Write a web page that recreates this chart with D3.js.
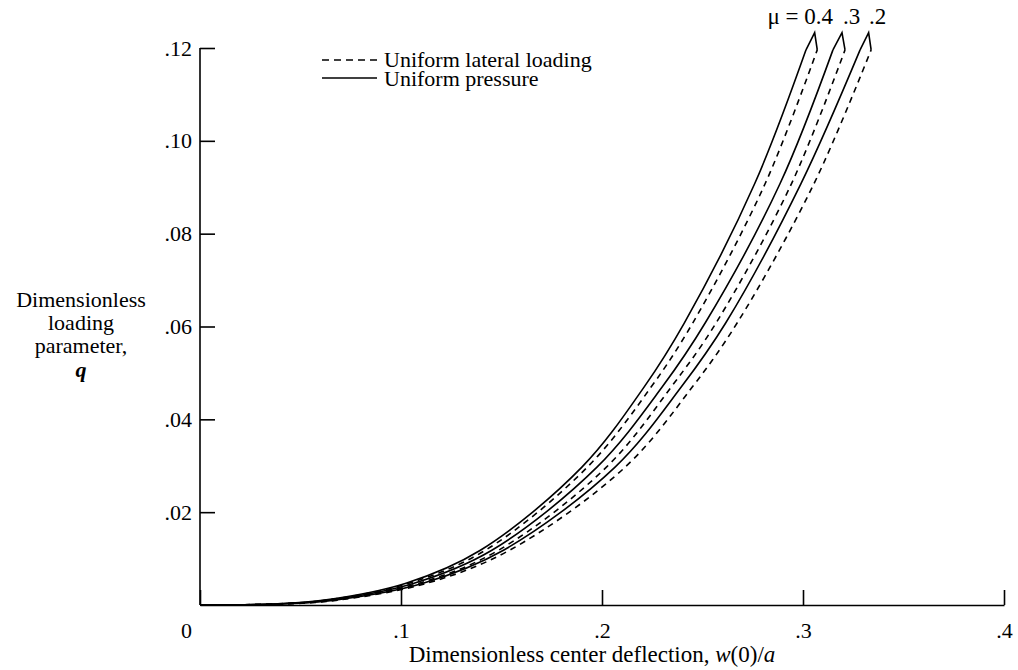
<!DOCTYPE html>
<html>
<head>
<meta charset="utf-8">
<script src="https://cdn.jsdelivr.net/npm/d3@7"></script>
<style>
  body { margin: 0; background: #fff; }
  svg text { font-family: "Liberation Serif", "DejaVu Serif", serif; fill: #000; }
  .axis path, .axis line { stroke: #000; stroke-width: 1.6; }
  .curve { fill: none; stroke: #000; stroke-width: 1.6; }
</style>
</head>
<body>
<svg id="chart" width="1018" height="670"></svg>
<script>
// q levels (vertical) where each curve's deflection was read
var qLevels = [0, 0.0002, 0.001, 0.0047, 0.0118, 0.0297, 0.047, 0.0608, 0.0908, 0.1196];

var pressure04 = [0, 0.036, 0.061, 0.1025, 0.1395, 0.190, 0.221, 0.241, 0.276, 0.3015];
var lateral04  = [0, 0.0365, 0.062, 0.104, 0.142, 0.1927, 0.2245, 0.2452, 0.2812, 0.3071];
var pressure03 = [0, 0.0372, 0.0633, 0.1065, 0.1452, 0.1975, 0.230, 0.2514, 0.2886, 0.3149];
var lateral03  = [0, 0.038, 0.065, 0.109, 0.1485, 0.2022, 0.2345, 0.2568, 0.2943, 0.3209];
var pressure02 = [0, 0.039, 0.066, 0.111, 0.151, 0.2065, 0.2395, 0.2616, 0.299, 0.3284];
var lateral02  = [0, 0.040, 0.0675, 0.113, 0.154, 0.2115, 0.245, 0.2673, 0.3055, 0.3339];

var muLabels = ["\u03bc = 0.4", ".3", ".2"];
var xTicks = [0, 0.1, 0.2, 0.3, 0.4];
var yTicks = [0.02, 0.04, 0.06, 0.08, 0.10, 0.12];
var legendLabels = ["Uniform lateral loading", "Uniform pressure"];

var pairs = [
  { mu: muLabels[0], solid: pressure04, dashed: lateral04 },
  { mu: muLabels[1], solid: pressure03, dashed: lateral03 },
  { mu: muLabels[2], solid: pressure02, dashed: lateral02 }
];

var svg = d3.select("#chart");
var padLeft = 200, padRight = 1004, padTop = 48, padBottom = 605;

var x = d3.scaleLinear().domain([0, 0.4]).range([padLeft, padRight]);
var y = d3.scaleLinear().domain([0, 0.12]).range([padBottom, padTop]);

//---AXES
var xAxis = svg.append("g")
    .attr("class", "axis")
    .attr("transform", "translate(0," + padBottom + ")")
    .call(d3.axisBottom(x)
        .tickValues(xTicks)
        .tickSize(-15)
        .tickSizeOuter(0)
        .tickPadding(17)
        .tickFormat(function (d) { return d == 0 ? "0" : d3.format(".1f")(d).replace(/^0/, ""); }));

xAxis.selectAll("text").style("font-size", "22px");
xAxis.selectAll(".tick").filter(function (d) { return d == 0; })
    .select("text").attr("x", -14);

var yAxis = svg.append("g")
    .attr("class", "axis")
    .attr("transform", "translate(" + padLeft + ",0)")
    .call(d3.axisLeft(y)
        .tickValues(yTicks)
        .tickSize(-15)
        .tickSizeOuter(0)
        .tickPadding(8)
        .tickFormat(function (d) { return d3.format(".2f")(d).replace(/^0/, ""); }));

yAxis.selectAll("text").style("font-size", "22px");
yAxis.select(".domain").attr("d", "M0," + padTop + "V" + padBottom);

//---CURVES
var line = d3.line()
    .x(function (d) { return x(d.w); })
    .y(function (d) { return y(d.q); })
    .curve(d3.curveCatmullRom.alpha(0.5));

function toPoints(ws) {
  return ws.map(function (w, i) { return { w: w, q: qLevels[i] }; });
}

var curves = svg.append("g");
var n = qLevels.length - 1;

pairs.forEach(function (p) {
  curves.append("path")
      .attr("class", "curve")
      .attr("d", line(toPoints(p.solid)));
  curves.append("path")
      .attr("class", "curve")
      .attr("stroke-dasharray", "6,5")
      .attr("d", line(toPoints(p.dashed)));

  // little caret joining the pair at the top
  var apexW = (p.solid[n] + p.dashed[n]) / 2 + 0.0015;
  var apexQ = qLevels[n] + 0.0037;
  curves.append("path")
      .attr("class", "curve")
      .attr("d", "M" + x(p.solid[n]) + "," + y(qLevels[n]) +
                 "L" + x(apexW) + "," + y(apexQ) +
                 "L" + x(p.dashed[n]) + "," + y(qLevels[n]));
});

// mu labels above the carets
svg.append("text")
    .attr("x", 833).attr("y", 24)
    .attr("text-anchor", "end")
    .style("font-size", "23px")
    .text(muLabels[0]);
svg.append("text")
    .attr("x", 843).attr("y", 24)
    .style("font-size", "23px")
    .text(muLabels[1]);
svg.append("text")
    .attr("x", 869).attr("y", 24)
    .style("font-size", "23px")
    .text(muLabels[2]);

//---LEGEND
var legend = svg.append("g");
legend.append("line")
    .attr("x1", 322).attr("x2", 377).attr("y1", 60).attr("y2", 60)
    .attr("class", "curve").attr("stroke-dasharray", "7,5");
legend.append("line")
    .attr("x1", 322).attr("x2", 377).attr("y1", 78).attr("y2", 78)
    .attr("class", "curve");
legend.selectAll("text")
    .data(legendLabels)
    .enter().append("text")
    .attr("x", 384)
    .attr("y", function (d, i) { return 67 + i * 19; })
    .style("font-size", "22px")
    .text(function (d) { return d; });

//---AXIS TITLES
var yTitle = svg.append("text")
    .attr("text-anchor", "middle")
    .style("font-size", "22px");
["Dimensionless", "loading", "parameter,"].forEach(function (t, i) {
  yTitle.append("tspan").attr("x", 81).attr("y", 307 + i * 23).text(t);
});
yTitle.append("tspan").attr("x", 81).attr("y", 377)
    .style("font-style", "italic").style("font-weight", "bold").text("q");

var xTitle = svg.append("text")
    .attr("x", 592).attr("y", 662)
    .attr("text-anchor", "middle")
    .style("font-size", "23px");
xTitle.append("tspan").text("Dimensionless center deflection, ");
xTitle.append("tspan").style("font-style", "italic").text("w");
xTitle.append("tspan").text("(0)/");
xTitle.append("tspan").style("font-style", "italic").text("a");
</script>
</body>
</html>
